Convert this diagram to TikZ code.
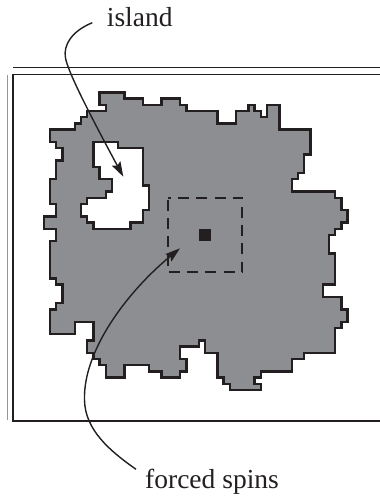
\documentclass[tikz,border=0pt]{standalone}
\usepackage{fontspec}
\setmainfont{Liberation Serif}
\usetikzlibrary{arrows.meta}
\definecolor{ink}{HTML}{231F20}
\definecolor{clus}{RGB}{141,142,146}
\definecolor{rule}{RGB}{150,150,150}
\tikzset{
  label text/.style={inner sep=0pt, anchor=base west, font=\fontsize{27.5}{30}\selectfont, text=ink},
  outline/.style={draw=ink, line width=2.4pt, line join=miter, fill=clus, even odd rule},
  pointer/.style={draw=ink, line width=1.4pt, -{Stealth[length=15pt,width=9.5pt,inset=2.5pt]}},
  frameline/.style={draw=ink, line width=1.3pt},
  dashbox/.style={draw=ink, line width=1.6pt, dash pattern=on 11pt off 7.3pt, dash phase=-2pt},
}
\begin{document}
\begin{tikzpicture}[x=1pt,y=-1pt]
\useasboundingbox (0,0) rectangle (380,496);
% frame
\draw[rule, line width=1pt] (7,75) -- (7,420);
\draw[frameline] (380,74.7) -- (13,74.7) -- (13,421) -- (380,421);
\draw[draw=ink, line width=0.9pt] (13,67.3) -- (380,67.3);
% cluster
\begin{scope}[shift={(50,92.3)}, x=6.2pt, y=-6.2pt]
\path[outline]
 (8,0)--(12,0)--(12,1)--(15,1)--(15,2)--(18,2)--(18,1)--(21,1)--(21,2)--(22,2)--(22,3)--(27,3)--(27,5)--(30,5)--(30,3)--(32,3)--(32,2)--(33,2)--(33,3)--(34,3)--(34,4)--(35,4)--(35,2)--(37,2)--(37,6)--(42,6)--(42,10)--(41,10)--(41,13)--(40,13)--(40,14)--(39,14)--(39,16)--(46,16)--(46,17)--(47,17)--(47,19)--(48,19)--(48,21)--(47,21)--(47,22)--(46,22)--(46,23)--(45,23)--(45,26)--(46,26)--(46,31)--(44,31)--(44,33)--(47,33)--(47,35)--(48,35)--(48,37)--(47,37)--(47,38)--(46,38)--(46,42)--(41,42)--(41,43)--(39,43)--(39,45)--(34,45)--(34,46)--(33,46)--(33,47)--(34,47)--(34,48)--(29,48)--(29,47)--(28,47)--(28,46)--(27,46)--(27,42)--(25,42)--(25,40)--(24,40)--(24,41)--(21,41)--(21,43)--(22,43)--(22,45)--(21,45)--(21,46)--(18,46)--(18,45)--(16,45)--(16,44)--(12,44)--(12,46)--(9,46)--(9,44)--(8,44)--(8,43)--(7,43)--(7,42)--(6,42)--(6,40)--(7,40)--(7,37)--(4,37)--(4,39)--(0,39)--(0,35)--(1,35)--(1,34)--(2,34)--(2,31)--(1,31)--(1,30)--(0,30)--(0,24)--(1,24)--(1,22)--(-1,22)--(-1,20)--(1,20)--(1,18)--(0,18)--(0,14)--(1,14)--(1,11)--(2,11)--(2,9)--(1,9)--(1,8)--(0,8)--(0,6)--(4,6)--(4,5)--(5,5)--(5,4)--(6,4)--(6,3)--(9,3)--(9,2)--(8,2)--cycle
 (7,8)--(11,8)--(11,9)--(15,9)--(15,15)--(16,15)--(16,19)--(15,19)--(15,21)--(13,21)--(13,22)--(7,22)--(7,21)--(6,21)--(6,20)--(5,20)--(5,18)--(6,18)--(6,17)--(9,17)--(9,16)--(10,16)--(10,14)--(8,14)--(8,12)--(7,12)--cycle;
\draw[dashbox] (19,17) rectangle (31,29);
\fill[ink] (24,22) rectangle (26,24);
\end{scope}
% labels
\node[label text] (island) at (106.7,26.7) {island};
\node[label text] (forced) at (145,488.3) {forced spins};
\coordinate (islandstart) at (92.3,22.7);
\coordinate (islandmid) at (65.5,58);
\coordinate (islandtip) at (123.3,176.7);
\coordinate (forcedstart) at (136,469.3);
\coordinate (forcedmid) at (84.5,400);
\coordinate (forcedtip) at (180,248.3);
\draw[pointer] (islandstart) .. controls (72,31) and (63,45) .. (islandmid)
  .. controls (68,72) and (90,115) .. (islandtip);
\draw[pointer] (forcedstart) .. controls (110,451) and (85,430) .. (forcedmid)
  .. controls (83,350) and (128,291) .. (forcedtip);
\end{tikzpicture}
\end{document}
